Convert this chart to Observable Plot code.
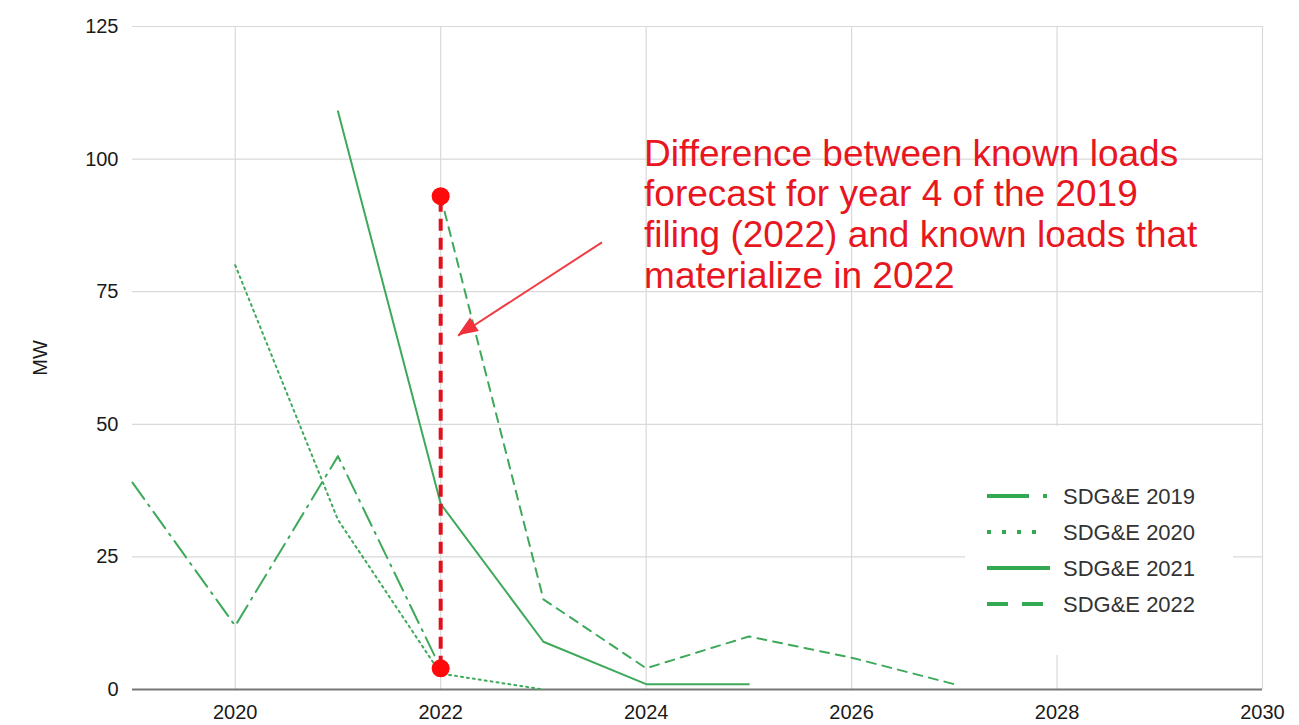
<!DOCTYPE html>
<html>
<head>
<meta charset="utf-8">
<script src="https://cdn.jsdelivr.net/npm/d3@7"></script>
<script src="https://cdn.jsdelivr.net/npm/@observablehq/plot@0.6"></script>
<style>
  body { margin: 0; background: #fff; font-family: "Liberation Sans", Arial, sans-serif; }
  #wrap { position: relative; width: 1299px; height: 725px; }
  #legend { position: absolute; left: 0; top: 0; }
</style>
</head>
<body>
<div id="wrap"></div>
<script>
// Known-load forecasts (MW) by filing year
const years2019 = [2019, 2020, 2021, 2022];
const mw2019 = [39, 12, 44, 4];
const years2020 = [2020, 2021, 2022, 2023];
const mw2020 = [80, 32, 3, 0];
const years2021 = [2021, 2022, 2023, 2024, 2025];
const mw2021 = [109, 35, 9, 1, 1];
const years2022 = [2022, 2023, 2024, 2025, 2026, 2027];
const mw2022 = [93, 17, 4, 10, 6, 1];

const seriesNames = ["SDG&E 2019", "SDG&E 2020", "SDG&E 2021", "SDG&E 2022"];

// Highlighted gap in 2022: 2019 filing's year-4 forecast vs. realised known loads
const gapYear = 2022;
const gapValues = [93, 4];

// Annotation
const noteLines = [
  "Difference between known loads",
  "forecast for year 4 of the 2019",
  "filing (2022) and known loads that",
  "materialize in 2022"
];
const notePos = {x: 2023.98, y: 104.2};
const arrowFrom = {x: 2023.57, y: 84.3};
const arrowTo = {x: 2022.17, y: 66.7};

const xTicks = [2020, 2022, 2024, 2026, 2028, 2030];
const yTicks = [0, 25, 50, 75, 100, 125];

const green = "#3ea95a";
const red = "#e8161f";
const toRows = (xs, ys) => xs.map((x, i) => ({x, y: ys[i]}));

// Filled arrowhead: a triangle whose tip sits at arrowTo, pointing along the shaft
function arrowHead(index, scales, values, dims, context) {
  const x1 = scales.x(arrowFrom.x), y1 = scales.y(arrowFrom.y);
  const x2 = scales.x(arrowTo.x), y2 = scales.y(arrowTo.y);
  const a = Math.atan2(y2 - y1, x2 - x1);
  const len = 20, half = 8;
  const bx = x2 - len * Math.cos(a), by = y2 - len * Math.sin(a);
  const pts = [
    [x2, y2],
    [bx + half * Math.sin(a), by - half * Math.cos(a)],
    [bx - half * Math.sin(a), by + half * Math.cos(a)]
  ];
  const g = d3.create("svg:g");
  g.append("polygon").attr("points", pts.map(p => p.join(",")).join(" ")).attr("fill", "#f0303a");
  return g.node();
}

const chart = Plot.plot({
  width: 1299,
  height: 725,
  marginLeft: 132,
  marginRight: 37,
  marginTop: 26,
  marginBottom: 36,
  style: {fontFamily: "'Liberation Sans', Arial, sans-serif", fontSize: "20px", color: "#1a1a1a", background: "#fff"},
  x: {domain: [2019, 2030]},
  y: {domain: [0, 125]},
  marks: [
    Plot.ruleX(xTicks, {stroke: "#d9d9d9", strokeWidth: 1.2}),
    Plot.ruleY(yTicks, {stroke: "#d9d9d9", strokeWidth: 1.2}),
    Plot.axisX({ticks: xTicks, tickFormat: d => String(d), tickSize: 0, tickPadding: 15, label: null, fontSize: 20}),
    Plot.axisY({ticks: yTicks, tickSize: 0, tickPadding: 14, label: null, fontSize: 20}),
    Plot.text(["MW"], {frameAnchor: "left", textAnchor: "middle", dx: -92, rotate: -90, fontSize: 20, fill: "#1a1a1a"}),
    Plot.ruleY([0], {stroke: "#777", strokeWidth: 2}),
    Plot.line(toRows(years2019, mw2019), {x: "x", y: "y", stroke: green, strokeWidth: 2, strokeDasharray: "20,7,2,7"}),
    Plot.line(toRows(years2020, mw2020), {x: "x", y: "y", stroke: green, strokeWidth: 2, strokeDasharray: "2,4"}),
    Plot.line(toRows(years2021, mw2021), {x: "x", y: "y", stroke: green, strokeWidth: 2}),
    Plot.line(toRows(years2022, mw2022), {x: "x", y: "y", stroke: green, strokeWidth: 2, strokeDasharray: "9,7"}),
    Plot.ruleX([gapYear], {y1: gapValues[1], y2: gapValues[0], stroke: "#e0101c", strokeWidth: 4, strokeDasharray: "12,7"}),
    Plot.dot(gapValues, {x: () => gapYear, y: d => d, r: 9, fill: "#ff0a0a", stroke: "none"}),
    Plot.link([{}], {x1: () => arrowFrom.x, y1: () => arrowFrom.y, x2: () => arrowTo.x, y2: () => arrowTo.y,
      stroke: "#f03c44", strokeWidth: 2}),
    arrowHead,
    Plot.text([noteLines.join("\n")], {x: () => notePos.x, y: () => notePos.y, text: d => d,
      textAnchor: "start", lineAnchor: "top", lineHeight: 1.1, fontSize: 37, fill: red})
  ]
});
document.getElementById("wrap").appendChild(chart);

// Legend drawn on a white panel over the lower-right of the plot area
const dashes = ["42,14,4,200", "4,11", null, "21,14"];
const lg = d3.select("#wrap").append("svg")
  .attr("id", "legend").attr("width", 1299).attr("height", 725)
  .style("font-family", "'Liberation Sans', Arial, sans-serif");
lg.append("rect").attr("x", 965).attr("y", 426).attr("width", 268).attr("height", 229).attr("fill", "#fff");
seriesNames.forEach((name, i) => {
  const cy = 496 + i * 36;
  const len = i === 1 ? 51 : (i === 3 ? 56 : 63);
  const ln = lg.append("line").attr("x1", 987).attr("x2", 987 + len).attr("y1", cy).attr("y2", cy)
    .attr("stroke", "#34a853").attr("stroke-width", 4);
  if (dashes[i]) ln.attr("stroke-dasharray", dashes[i]);
  lg.append("text").attr("x", 1063).attr("y", cy).attr("dy", "0.35em")
    .attr("font-size", 22).attr("fill", "#333").text(name);
});
</script>
</body>
</html>
